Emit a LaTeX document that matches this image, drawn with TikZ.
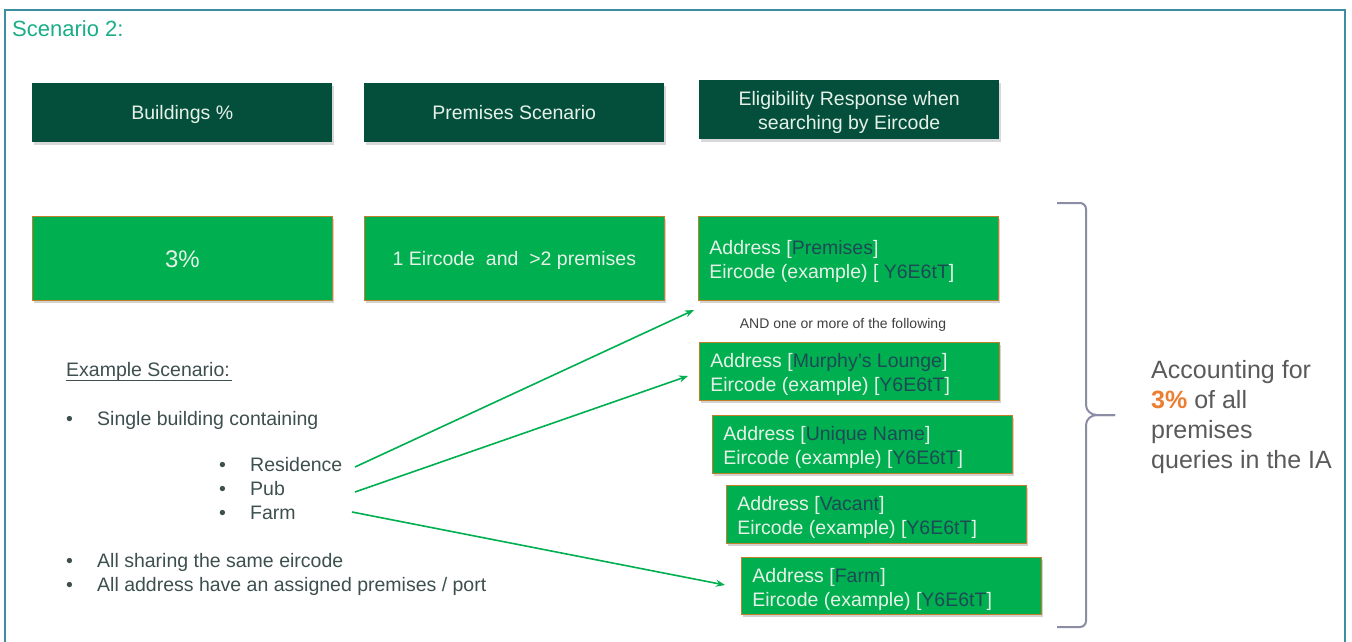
\documentclass[tikz,border=0pt]{standalone}
\usepackage{fontspec}
\setmainfont{Liberation Sans}
\usetikzlibrary{shadows,arrows.meta}
\definecolor{framecol}{HTML}{3C8EA0}
\definecolor{scencol}{HTML}{1AAE88}
\definecolor{dkgreen}{HTML}{044F3C}
\definecolor{ltgreen}{HTML}{00AF50}
\definecolor{boxedge}{HTML}{C0802A}
\definecolor{boxtxt}{HTML}{E6F2E8}
\definecolor{codetxt}{HTML}{1E4A55}
\definecolor{bodytxt}{HTML}{3D4F4E}
\definecolor{bracecol}{HTML}{8A8DA5}
\definecolor{acctxt}{HTML}{5A5A5A}
\definecolor{orangecol}{HTML}{ED7D31}
\definecolor{andtxt}{HTML}{404040}
\newcommand{\addrtext}[2]{\parbox[t]{278pt}{\raggedright Address [\textcolor{codetxt}{#1}]\\Eircode (example) [#2\textcolor{codetxt}{Y6E6tT}]}}
\begin{document}
\begin{tikzpicture}[x=1pt,y=-1pt,
  hdr/.style={fill=dkgreen, draw=none, text=boxtxt, anchor=north west,
    minimum width=300pt, minimum height=59pt, inner sep=0pt, align=center,
    text height=14pt, text depth=0pt,
    font=\fontsize{19.5}{24}\selectfont,
    drop shadow={opacity=0.3, shadow xshift=1.5pt, shadow yshift=-2.5pt}},
  gbox/.style={fill=ltgreen, draw=boxedge, line width=0.8pt, text=boxtxt,
    anchor=north west, minimum width=300pt, minimum height=84pt, inner sep=0pt,
    align=center, text height=14pt, text depth=0pt,
    font=\fontsize{19.5}{24}\selectfont,
    drop shadow={opacity=0.35, shadow xshift=2pt, shadow yshift=-2.5pt}},
  abox/.style={fill=ltgreen, draw=boxedge, line width=0.8pt, text=boxtxt,
    anchor=north west, minimum width=300pt, minimum height=58pt,
    inner xsep=11pt, inner ysep=0pt, text height=14pt, text depth=21.4pt,
    font=\fontsize{19.5}{24}\selectfont,
    drop shadow={opacity=0.35, shadow xshift=2pt, shadow yshift=-2.5pt}},
  body/.style={anchor=base west, inner sep=0pt, text=bodytxt,
    font=\fontsize{19.5}{24}\selectfont},
  acc/.style={anchor=base west, inner sep=0pt, text=acctxt,
    font=\fontsize{25}{30}\selectfont},
  arr/.style={draw=ltgreen, line width=1.6pt, -{Stealth[length=9pt,width=7pt]}},
  bracestyle/.style={draw=bracecol, line width=2pt}
]
\useasboundingbox (0,0) rectangle (1352,642);
\fill[white] (0,0) rectangle (1352,642);
\draw[framecol, line width=1.5pt] (5,10) rectangle (1345,660);

\node[anchor=base west, inner sep=0pt, text=scencol, font=\fontsize{22}{26}\selectfont] (title) at (12,36.5) {Scenario 2:};

% header row
\node[hdr] (h1) at (32,83) {Buildings \%};
\node[hdr] (h2) at (364,83) {Premises Scenario};
\node[hdr, align=none, text height=14pt, text depth=23pt] (h3) at (699,80)
  {\parbox[t]{300pt}{\centering Eligibility Response when\\searching by Eircode}};

% second row
\node[gbox, font=\fontsize{24}{28}\selectfont, text height=17.2pt] (b1) at (32,216) {3\%};
\node[gbox] (b2) at (364,216) {1 Eircode\ \ and\ \ >2 premises};
\node[abox, minimum height=84pt] (r1) at (698,216) {\addrtext{Premises}{ }};

\node[inner sep=0pt, text=andtxt, font=\fontsize{14}{16}\selectfont] (andtext) at (843,325) {AND one or more of the following};

\node[abox] (r2) at (699,342) {\addrtext{Murphy’s Lounge}{}};
\node[abox] (r3) at (712,415) {\addrtext{Unique Name}{}};
\node[abox] (r4) at (726,485) {\addrtext{Vacant}{}};
\node[abox, minimum height=57pt] (r5) at (741,557) {\addrtext{Farm}{}};

% left text
\node[body] (ex) at (66,376.5) {Example Scenario:};
\draw[bodytxt, line width=0.8pt] (ex.base west) ++(0,3.5) -- ++(166,0);
\node[body] (bl1) at (66,425) {•};
\node[body] (t1) at (97,425) {Single building containing};
\node[body] (bl2) at (219,471.5) {•};
\node[body] (res) at (250,471.5) {Residence};
\node[body] (bl3) at (219,495) {•};
\node[body] (pub) at (250,495) {Pub};
\node[body] (bl4) at (219,519) {•};
\node[body] (farm) at (250,519) {Farm};
\node[body] (bl5) at (66,567) {•};
\node[body] (t2) at (97,567) {All sharing the same eircode};
\node[body] (bl6) at (66,591) {•};
\node[body] (t3) at (97,591) {All address have an assigned premises / port};

% arrows
\coordinate (s1) at (355,467);
\coordinate (s2) at (355,492);
\coordinate (s3) at (352,512);
\coordinate (e1) at (694,310);
\coordinate (e2) at (688,376);
\coordinate (e3) at (725,585);
\draw[arr] (s1) -- (e1);
\draw[arr] (s2) -- (e2);
\draw[arr] (s3) -- (e3);

% brace
\coordinate (btop) at (1057,203);
\coordinate (btip) at (1115,415);
\coordinate (bbot) at (1057,627);
\draw[bracestyle] (btop) -- (1080,203) to[out=0,in=90] (1086,209) -- (1086,405)
  to[out=-90,in=180] (1097,415) -- (btip);
\draw[bracestyle] (btip) -- (1097,415) to[out=180,in=90] (1086,425) -- (1086,621)
  to[out=-90,in=0] (1080,627) -- (bbot);

% accounting text
\node[acc] (acc1) at (1151,378) {Accounting for};
\node[acc] (acc2) at (1151,408) {\textcolor{orangecol}{\textbf{3\%}} of all};
\node[acc] (acc3) at (1151,438) {premises};
\node[acc] (acc4) at (1151,468) {queries in the IA};
\end{tikzpicture}
\end{document}
